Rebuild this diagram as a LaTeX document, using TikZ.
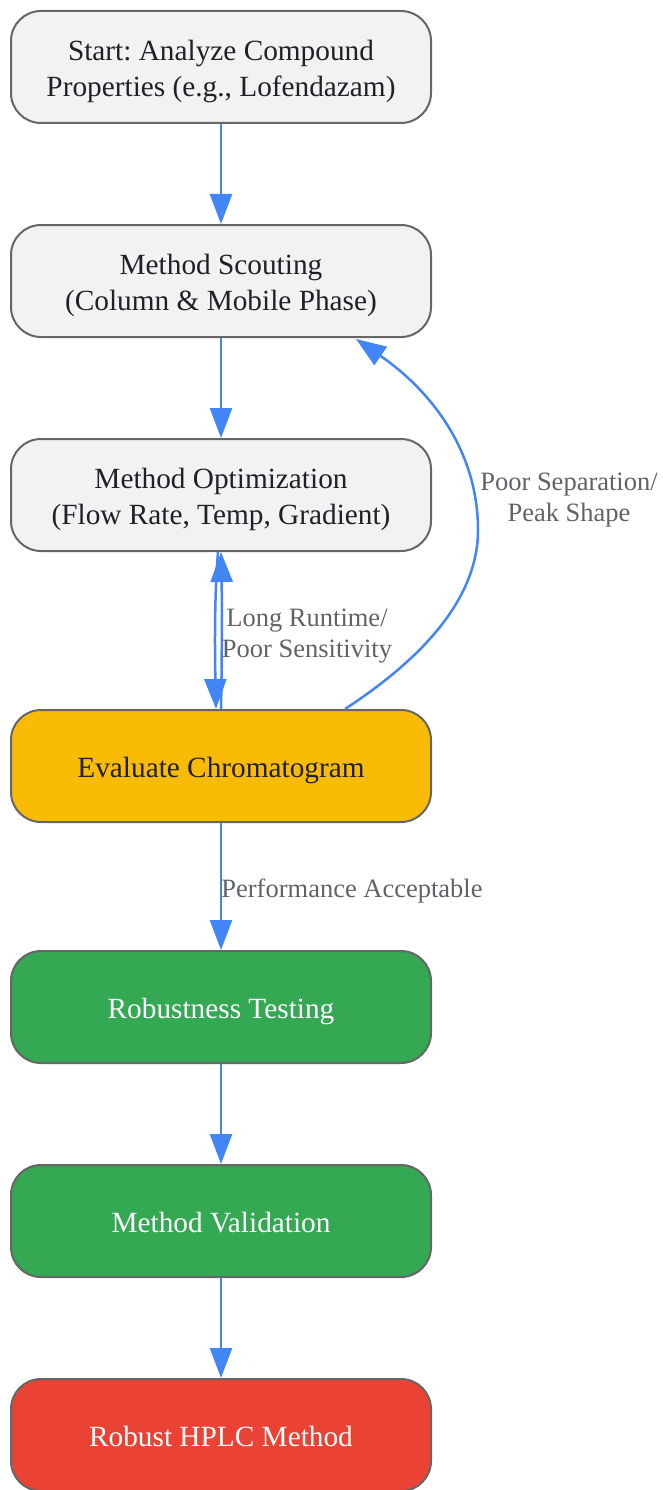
\documentclass[tikz,border=0pt]{standalone}
\usepackage{fontspec}
\setmainfont{Liberation Serif}
\usetikzlibrary{arrows.meta}
\frenchspacing
\definecolor{boxgray}{HTML}{F1F2F4}
\definecolor{bordergray}{HTML}{666666}
\definecolor{txtdark}{HTML}{202124}
\definecolor{gyellow}{HTML}{F9BB05}
\definecolor{ggreen}{HTML}{34A853}
\definecolor{gred}{HTML}{EA4335}
\definecolor{gblue}{HTML}{4285F4}
\definecolor{lblgray}{HTML}{5F6368}
\newcommand\bxt[1]{\raisebox{-4pt}[\height][\depth]{\begin{tabular}{@{}c@{}}#1\end{tabular}}}
\tikzset{
  flowbox/.style={draw=bordergray, line width=2pt, rounded corners=30pt,
    minimum width=420pt, minimum height=112pt, align=center,
    font=\fontsize{29.3}{36}\selectfont\frenchspacing, text=txtdark, fill=boxgray},
  yellowbox/.style={flowbox, fill=gyellow},
  greenbox/.style={flowbox, fill=ggreen, text=white},
  redbox/.style={flowbox, fill=gred, text=white},
  flowarrow/.style={draw=gblue, line width=2.5pt,
    -{Triangle[length=30pt,width=22pt]}},
  edgelabel/.style={text=lblgray, align=center, font=\fontsize{26.5}{31}\selectfont\frenchspacing}
}
\begin{document}
\begin{tikzpicture}[x=1pt,y=-1pt]
\useasboundingbox (0,0) rectangle (662,1490);
\node[flowbox] (start) at (221,67) {\bxt{Start: Analyze Compound\\Properties (e.g., Lofendazam)}};
\node[flowbox] (scout) at (221,281) {\bxt{Method Scouting\\(Column \& Mobile Phase)}};
\node[flowbox] (opt) at (221,495) {\bxt{Method Optimization\\(Flow Rate, Temp, Gradient)}};
\node[yellowbox] (eval) at (221,766) {\bxt{Evaluate Chromatogram}};
\node[greenbox] (robust) at (221,1007) {\bxt{Robustness Testing}};
\node[greenbox] (valid) at (221,1221) {\bxt{Method Validation}};
\node[redbox] (final) at (221,1435) {\bxt{Robust HPLC Method}};

\draw[flowarrow] (start.south) -- (scout.north);
\draw[flowarrow] (scout.south) -- (opt.north);
\draw[flowarrow] (opt.south -| 218,0) .. controls (214,600) and (215,660) .. (eval.north -| 216,0);
\draw[flowarrow] (eval.north -| 221,0) .. controls (222,660) and (222,600) .. (opt.south -| 221,0);
\node[edgelabel] (lbl1) at (307,636) {Long Runtime/\\Poor Sensitivity};
\draw[flowarrow] (eval.north -| 345,0) .. controls (420,660) and (478,600) .. (478,530)
  .. controls (478,450) and (430,390) .. (356,339);
\node[edgelabel] (lbl2) at (569,500) {Poor Separation/\\Peak Shape};
\draw[flowarrow] (eval.south) -- (robust.north);
\node[edgelabel] (lbl3) at (352,891) {Performance Acceptable};
\draw[flowarrow] (robust.south) -- (valid.north);
\draw[flowarrow] (valid.south) -- (final.north);
\end{tikzpicture}
\end{document}
